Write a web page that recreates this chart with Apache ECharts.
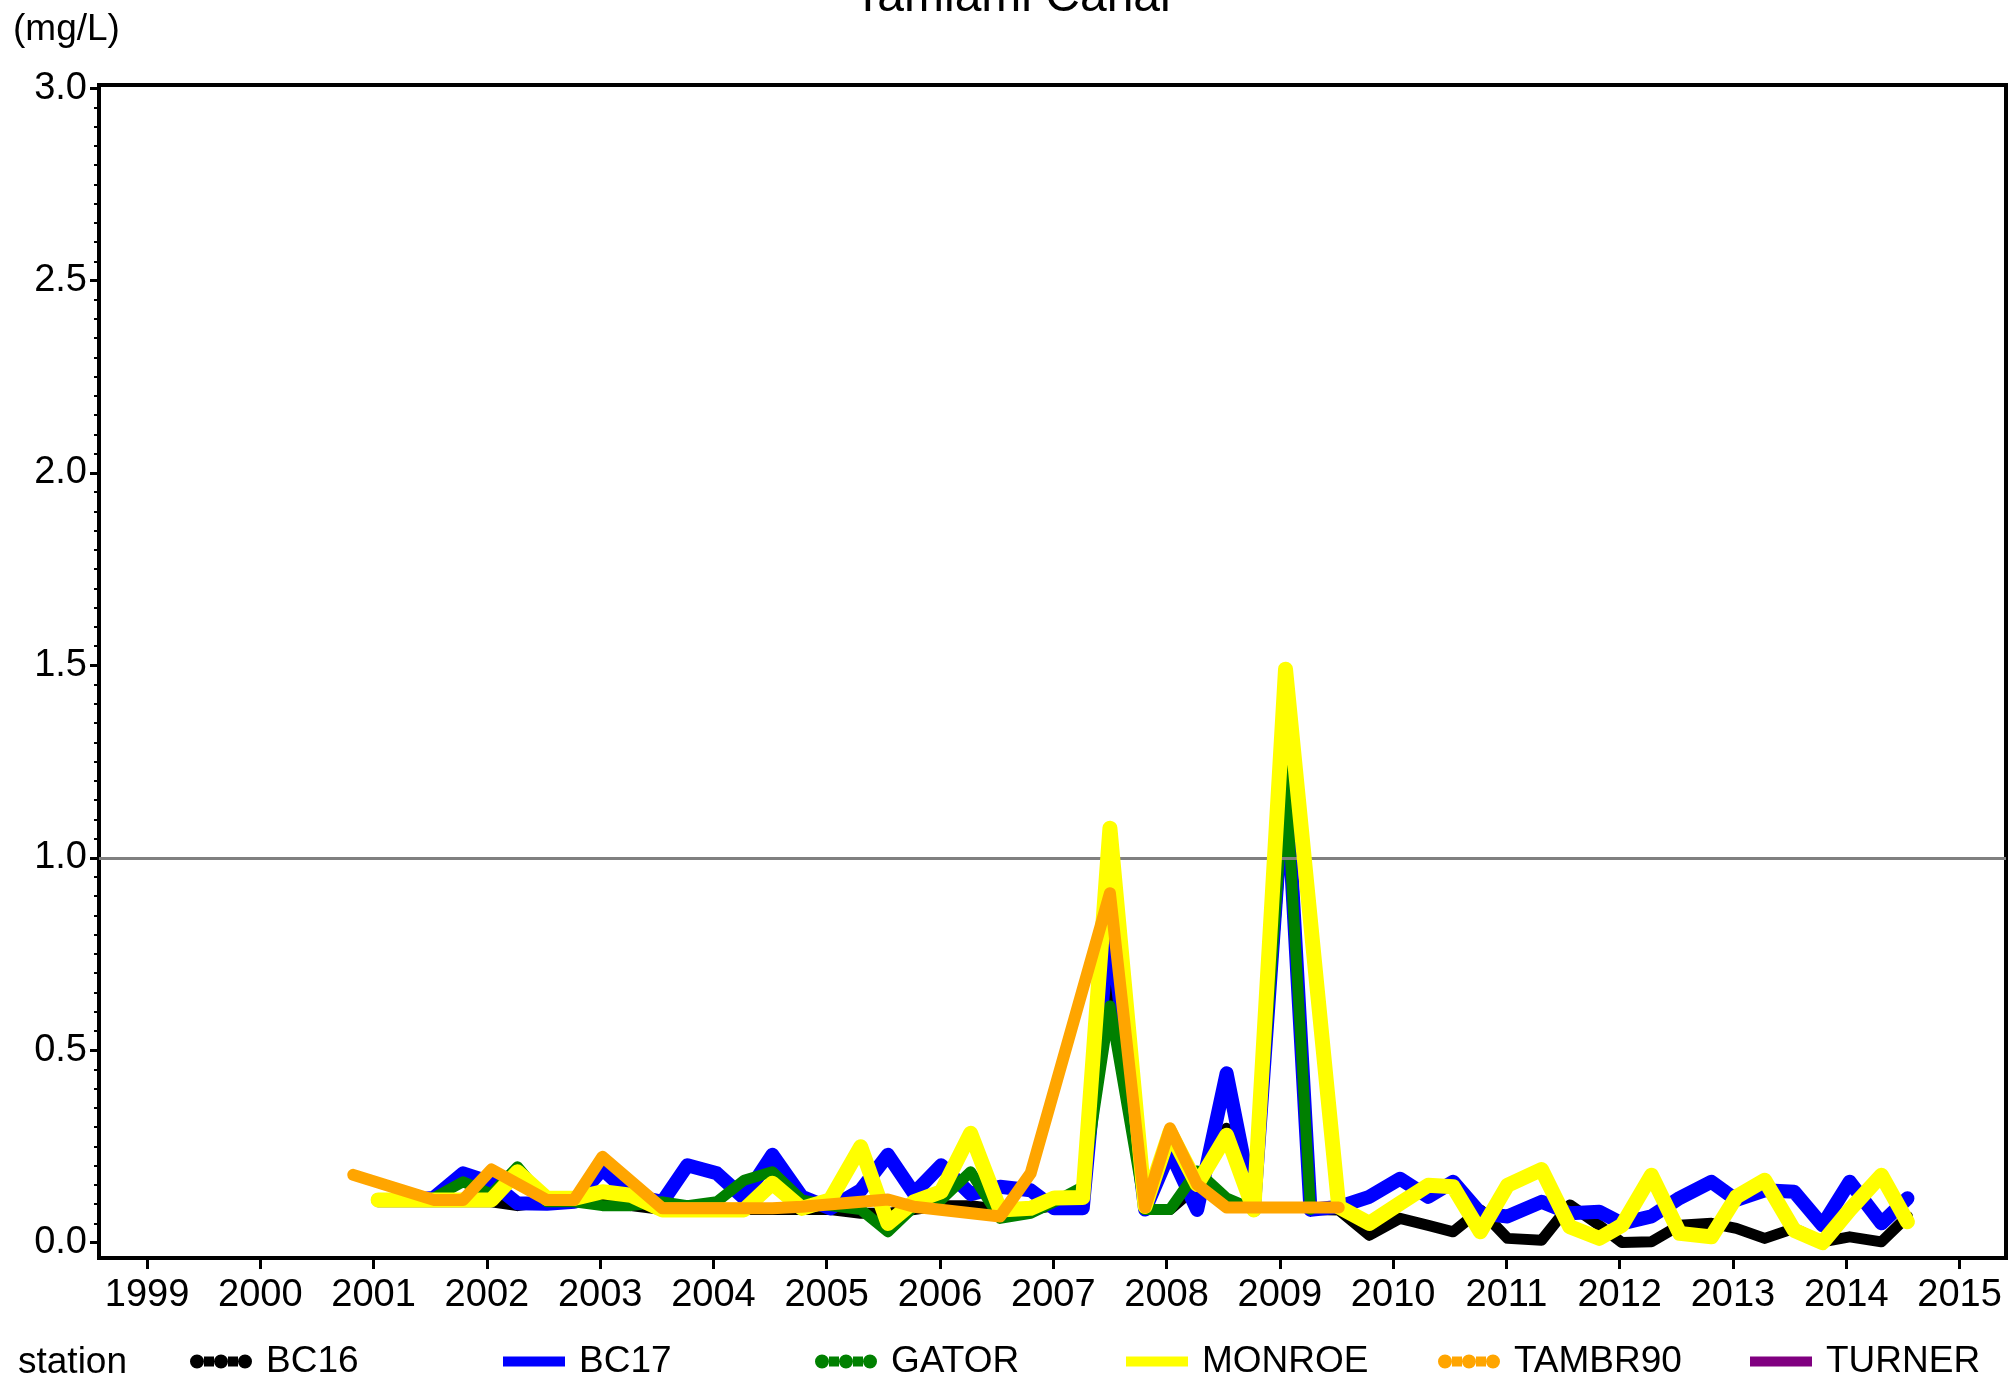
<!DOCTYPE html>
<html><head><meta charset="utf-8">
<script src="https://cdn.jsdelivr.net/npm/echarts@6/dist/echarts.min.js"></script>
<style>html,body{margin:0;padding:0;background:#fff}#c{width:2009px;height:1379px}</style>
</head><body><div id="c"></div>
<script>
const chartTitle = 'Tamiami Canal';
const unitLabel = '(mg/L)';
const legendTitle = 'station';
const stationNames = ['BC16', 'BC17', 'GATOR', 'MONROE', 'TAMBR90', 'TURNER'];
const xTickValues = [1999, 2000, 2001, 2002, 2003, 2004, 2005, 2006, 2007, 2008, 2009, 2010, 2011, 2012, 2013, 2014, 2015];
const yTickValues = [0, 0.5, 1.0, 1.5, 2.0, 2.5, 3.0];
const referenceLevel = 1.0;

// sampling dates in decimal years
const sampleDates = [2000.82, 2001.04, 2001.29, 2001.53, 2001.79, 2002.04, 2002.27, 2002.53, 2002.77, 2003.02,
  2003.27, 2003.55, 2003.77, 2004.03, 2004.27, 2004.52, 2004.78, 2005.03, 2005.30, 2005.54,
  2005.77, 2006.01, 2006.27, 2006.53, 2006.80, 2007.01, 2007.26, 2007.50, 2007.81, 2008.03,
  2008.27, 2008.53, 2008.77, 2009.05, 2009.27, 2009.52, 2009.79, 2010.06, 2010.31, 2010.53,
  2010.77, 2011.01, 2011.31, 2011.56, 2011.82, 2012.02, 2012.28, 2012.53, 2012.81, 2013.03,
  2013.28, 2013.54, 2013.79, 2014.03, 2014.31, 2014.54];

const bc16Values = [null, 0.106, 0.106, 0.106, 0.106, 0.106, 0.096, 0.106, 0.106, 0.106,
  0.096, 0.086, 0.086, 0.086, 0.086, 0.086, 0.086, 0.086, 0.076, 0.076,
  0.086, 0.096, 0.096, 0.086, 0.086, 0.096, 0.106, 0.74, 0.086, 0.086,
  0.147, 0.297, 0.086, 1.193, 0.086, 0.085, 0.019, 0.063, 0.045, 0.028,
  0.085, 0.011, 0.006, 0.098, 0.045, 0.0, 0.002, 0.045, 0.05, 0.037,
  0.011, 0.037, 0.002, 0.015, 0.002, 0.068];

const bc17Values = [null, 0.111, 0.111, 0.116, 0.18, 0.156, 0.102, 0.101, 0.106, 0.191,
  0.123, 0.106, 0.201, 0.18, 0.116, 0.228, 0.119, 0.089, 0.136, 0.228,
  0.128, 0.201, 0.126, 0.145, 0.136, 0.089, 0.089, 0.841, 0.086, 0.237,
  0.085, 0.44, 0.085, 1.243, 0.085, 0.093, 0.119, 0.166, 0.119, 0.158,
  0.076, 0.068, 0.106, 0.076, 0.08, 0.05, 0.068, 0.116, 0.158, 0.111,
  0.136, 0.132, 0.045, 0.158, 0.05, 0.115];

const gatorValues = [null, 0.111, 0.111, 0.116, 0.158, 0.126, 0.197, 0.106, 0.106, 0.096,
  0.096, 0.106, 0.096, 0.106, 0.162, 0.184, 0.111, 0.096, 0.086, 0.028,
  0.093, 0.111, 0.184, 0.063, 0.076, 0.106, 0.145, 0.615, 0.086, 0.086,
  0.186, 0.116, 0.086, 1.226, 0.086, null, null, null, null, null,
  null, null, null, null, null, null, null, null, null, null,
  null, null, null, null, null, null];

const monroeValues = [null, 0.111, 0.111, 0.111, 0.111, 0.111, 0.184, 0.115, 0.115, 0.132,
  0.123, 0.085, 0.085, 0.085, 0.085, 0.154, 0.089, 0.111, 0.249, 0.05,
  0.106, 0.132, 0.284, 0.085, 0.089, 0.116, 0.117, 1.077, 0.094, 0.287,
  0.151, 0.279, 0.085, 1.49, null, 0.093, 0.05, 0.102, 0.149, 0.145,
  0.028, 0.149, 0.19, 0.041, 0.011, 0.045, 0.175, 0.024, 0.015, 0.119,
  0.162, 0.032, 0.0, 0.085, 0.175, 0.054];

const tambr90Values = [0.176, null, null, 0.111, 0.111, 0.19, null, 0.111, 0.111, 0.223,
  null, 0.089, 0.089, 0.089, 0.089, 0.089, 0.093, null, null, 0.112,
  0.093, null, null, 0.068, 0.18, null, null, 0.908, 0.091, 0.297,
  0.151, 0.091, 0.091, null, null, 0.091, null, null, null, null,
  null, null, null, null, null, null, null, null, null, null,
  null, null, null, null, null, null];

const turnerValues = [];

const stationValues = [bc16Values, bc17Values, gatorValues, monroeValues, tambr90Values, turnerValues];
const stationColors = ['#000000', '#0000ff', '#008000', '#ffff00', '#ffa500', '#800080'];
const stationWidths = [11, 14, 11, 15, 12, 11];

const FONT = '"Liberation Sans", Arial, sans-serif';

const yMinorTicks = [];
for (let k = 0; k <= 60; k++) yMinorTicks.push(+(k * 0.05).toFixed(2));

const dottedIcon = 'path://M14,2 L24,2 L24,12 L14,12 Z M38,2 L48,2 L48,12 L38,12 Z ' +
  'M0,7 A7,7 0 1 1 14,7 A7,7 0 1 1 0,7 Z M24,7 A7,7 0 1 1 38,7 A7,7 0 1 1 24,7 Z M48,7 A7,7 0 1 1 62,7 A7,7 0 1 1 48,7 Z';
const barIcon = 'path://M0,2 L62,2 L62,12 L0,12 Z';
const legendIcons = [dottedIcon, barIcon, dottedIcon, barIcon, dottedIcon, barIcon];
const legendLefts = [190, 503, 815, 1126, 1438, 1750];

function pairs(vals) {
  const out = [];
  vals.forEach((v, i) => { if (v !== null && v !== undefined) out.push([sampleDates[i], v]); });
  return out;
}

const series = stationNames.map((name, i) => {
  const s = {
    name: name,
    type: 'line',
    xAxisIndex: 0,
    yAxisIndex: 0,
    data: pairs(stationValues[i]),
    showSymbol: false,
    symbol: 'none',
    color: stationColors[i],
    connectNulls: true,
    lineStyle: { color: stationColors[i], width: stationWidths[i], cap: 'round', join: 'round' },
    animation: false,
    z: 2 + i
  };
  if (i === 0) {
    s.markLine = {
      silent: true,
      symbol: ['none', 'none'],
      label: { show: false },
      lineStyle: { color: '#808080', width: 3, type: 'solid' },
      data: [{ yAxis: referenceLevel }],
      animation: false
    };
  }
  return s;
});

const chart = echarts.init(document.getElementById('c'), null, { renderer: 'canvas' });
chart.setOption({
  backgroundColor: '#ffffff',
  animation: false,
  textStyle: { fontFamily: FONT },
  grid: { left: 99, right: 3, top: 85, bottom: 121, show: true, borderColor: '#000', borderWidth: 4, backgroundColor: 'transparent' },
  xAxis: {
    type: 'value', min: 1998.576, max: 2015.41,
    axisLine: { show: true, onZero: false, lineStyle: { color: '#000', width: 4 } },
    axisTick: { show: true, customValues: xTickValues, length: 11, lineStyle: { color: '#000', width: 3 } },
    axisLabel: { customValues: xTickValues, formatter: v => String(Math.round(v)), fontSize: 38, color: '#000', margin: 19, fontFamily: FONT },
    splitLine: { show: false }
  },
  yAxis: [{
    type: 'value', min: -0.040, max: 3.008,
    axisLine: { show: true, onZero: false, lineStyle: { color: '#000', width: 4 } },
    axisTick: { show: true, customValues: yTickValues, length: 9, lineStyle: { color: '#000', width: 3 } },
    axisLabel: { customValues: yTickValues, formatter: v => v.toFixed(1), fontSize: 38, color: '#000', margin: 12, fontFamily: FONT, showMinLabel: true, showMaxLabel: true },
    splitLine: { show: false }
  }, {
    type: 'value', min: -0.040, max: 3.008, position: 'left', offset: 0,
    axisLine: { show: false, onZero: false },
    axisTick: { show: true, customValues: yMinorTicks, length: 5, lineStyle: { color: '#000', width: 2 } },
    axisLabel: { show: false },
    splitLine: { show: false }
  }],
  legend: stationNames.map((name, i) => ({
    left: legendLefts[i], top: 1343, padding: 0,
    itemWidth: 62, itemHeight: 14,
    selectedMode: false,
    data: [{ name: name, icon: legendIcons[i] }],
    textStyle: { fontSize: 37, color: '#000', fontFamily: FONT, padding: [0, 0, 0, 9] }
  })),
  graphic: [
    { type: 'text', style: { text: chartTitle, x: 1012, y: -2, align: 'center', verticalAlign: 'middle', font: '48px ' + FONT, fill: '#000' }, silent: true },
    { type: 'text', style: { text: unitLabel, x: 13, y: 30, align: 'left', verticalAlign: 'middle', font: '37px ' + FONT, fill: '#000' }, silent: true },
    { type: 'text', style: { text: legendTitle, x: 18, y: 1363, align: 'left', verticalAlign: 'middle', font: '37px ' + FONT, fill: '#000' }, silent: true }
  ],
  series: series
});
</script>
</body></html>
